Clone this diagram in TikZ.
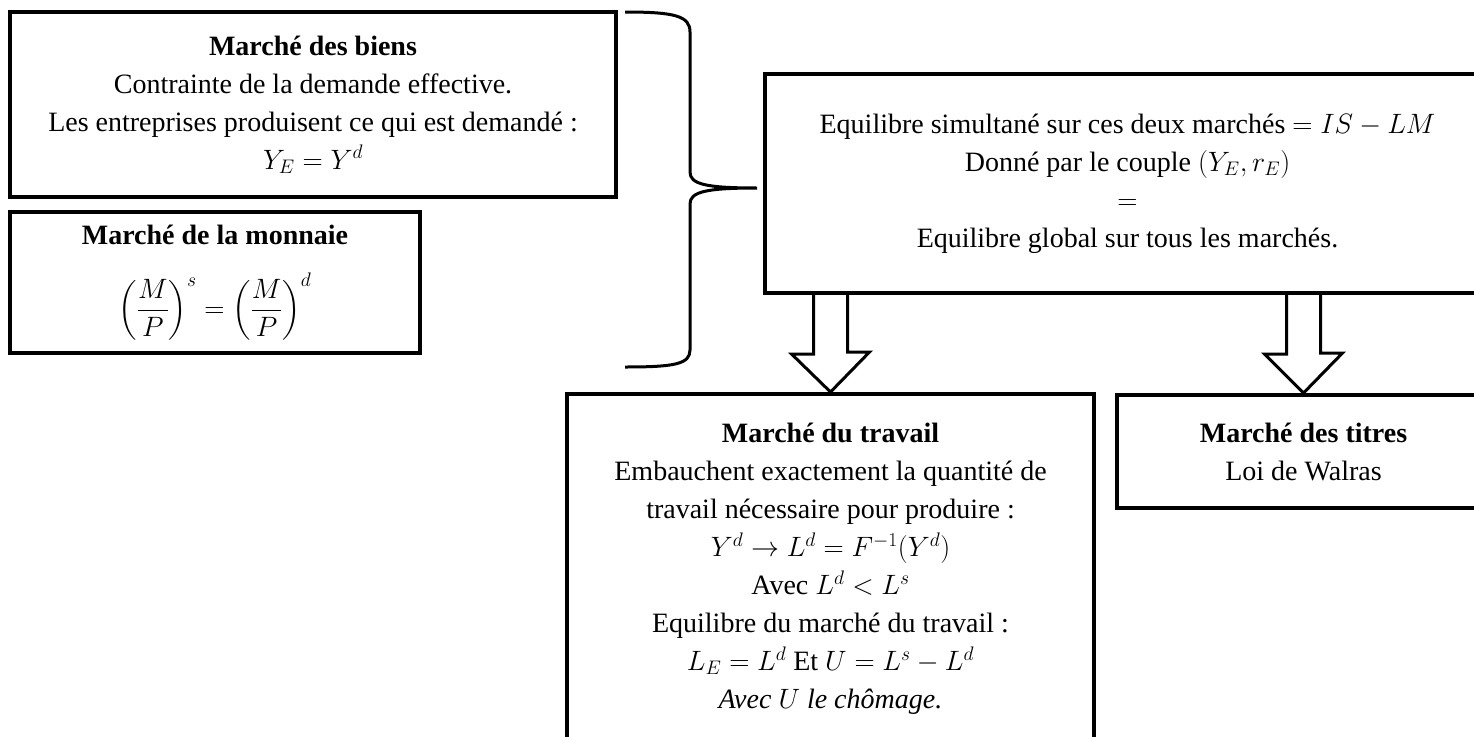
\RequirePackage{fix-cm}
\documentclass[tikz,border=0pt]{standalone}
\usepackage{amsmath}
\usepackage{fontspec}
\setmainfont{Liberation Serif}
\begin{document}
\begin{tikzpicture}[x=1pt,y=1pt,line join=miter,font=\fontsize{28}{38}\selectfont]
		\tikzset{marche/.style={draw,line width=4pt,align=center,inner sep=0pt},
			fleche/.style={line width=3pt}}
		\useasboundingbox (0,0) rectangle (1474,-736);
		\clip (0,0) rectangle (1474,-736);
		% les deux marches de gauche
		\node[marche,minimum width=606,minimum height=185] (biens) at (313,-104.5)
		{\textbf{Marché des biens}\\Contrainte de la demande effective.\\
			Les entreprises produisent ce qui est demandé :\\$Y_E = Y^d$};
		\node[marche,minimum width=410,minimum height=141] (monnaie) at (215,-282.5)
		{\textbf{Marché de la monnaie}\\[28pt]
			$\left(\dfrac{M}{P}\right)^{s} = \left(\dfrac{M}{P}\right)^{d}$};
		% accolade
		\draw[line width=3pt] (625,-12) .. controls (675,-12) and (690,-16) .. (690,-32)
		-- (690,-172) .. controls (690,-184) and (705,-188) .. (757,-188)
		.. controls (705,-188) and (690,-192) .. (690,-204)
		-- (690,-350) .. controls (690,-364) and (675,-367) .. (625,-367);
		% equilibre IS-LM
		\node[marche,minimum width=725,minimum height=219] (eq) at (1127.5,-183.5)
		{Equilibre simultané sur ces deux marchés $= IS - LM$\\
			Donné par le couple $(Y_E, r_E)$\\$=$\\Equilibre global sur tous les marchés.};
		% marches du travail et des titres
		\node[marche,anchor=north,minimum width=527,minimum height=350] (trav) at (830.5,-392)
		{\textbf{Marché du travail}\\Embauchent exactement la quantité de\\
			travail nécessaire pour produire :\\$Y^d \rightarrow L^d = F^{-1}(Y^d)$\\
			Avec $L^d < L^s$\\Equilibre du marché du travail :\\
			$L_E = L^d$ Et $U = L^s - L^d$\\\textit{Avec $U$ le chômage.}};
		\node[marche,minimum width=373,minimum height=113] (titres) at (1303.5,-451.5)
		{\textbf{Marché des titres}\\Loi de Walras};
		\foreach \cible in {trav,titres}
		\draw[fleche] (eq.south -| \cible.north) ++(-17,0) -- ++(0,-59) -- ++(-22,0)
		-- (\cible.north) -- ++(39,40) -- ++(-22,0) -- ++(0,59);
		
		\end{tikzpicture}
\end{document}
